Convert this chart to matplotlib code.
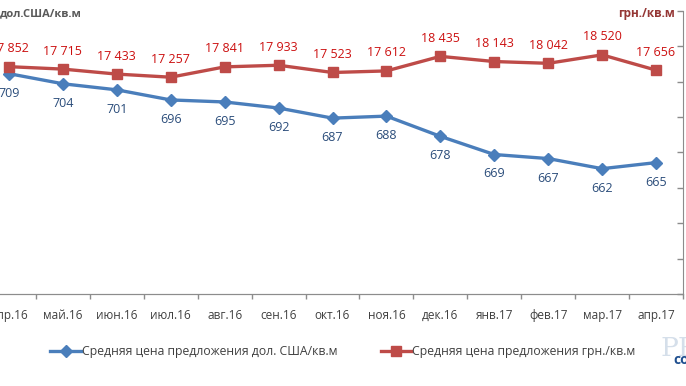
import matplotlib
matplotlib.use("Agg")
import matplotlib.pyplot as plt
from matplotlib.ticker import FixedLocator

plt.rcParams["font.family"] = ["Open Sans", "DejaVu Sans"]

# данные
months = ["апр.16", "май.16", "июн.16", "июл.16", "авг.16", "сен.16", "окт.16",
          "ноя.16", "дек.16", "янв.17", "фев.17", "мар.17", "апр.17"]
usd = [709, 704, 701, 696, 695, 692, 687, 688, 678, 669, 667, 662, 665]
uah = [17852, 17715, 17433, 17257, 17841, 17933, 17523, 17612, 18435, 18143, 18042, 18520, 17656]

BLUE = "#4a7ebb"
RED = "#be4b48"
AXIS = "#8c8c8c"


def fmt_uah(v):
    return f"{v:,}".replace(",", " ")


fig = plt.figure(figsize=(6.86, 3.86), dpi=100)
ax = fig.add_axes([-18 / 686, 92 / 386, 701 / 686, 283 / 386])
ax2 = ax.twinx()

x = list(range(len(months)))
l1, = ax.plot(x, usd, "-D", color=BLUE, lw=2.4, ms=6, mec=BLUE,
              label="Средняя цена предложения дол. США/кв.м")
l2, = ax2.plot(x, uah, "-s", color=RED, lw=2.4, ms=7, mec=RED,
               label="Средняя цена предложения грн./кв.м")

for i, v in enumerate(usd):
    ax.annotate(str(v), (i, v), xytext=(0, -14), textcoords="offset points",
                ha="center", va="center", fontsize=9, color="#2a4c7a")
for i, v in enumerate(uah):
    ax2.annotate(fmt_uah(v), (i, v), xytext=(0, 13), textcoords="offset points",
                 ha="center", va="center", fontsize=9, color="#cc1010")

ax.set_xlim(-0.5, 12.5)
ax.set_ylim(600, 740)
ax2.set_ylim(5000, 21000)

ax.set_xticks(x)
ax.set_xticklabels(months)
ax.xaxis.set_minor_locator(FixedLocator([i + 0.5 for i in range(-1, 13)]))
ax.tick_params(axis="x", which="major", length=0, pad=11, labelsize=8.5, labelcolor="#404040")
ax.tick_params(axis="x", which="minor", length=3.5, width=1, color=AXIS, direction="out")
ax.set_yticks([])

ax2.set_yticks(range(5000, 21001, 2000))
ax2.tick_params(axis="y", direction="in", length=4.5, width=1, color=AXIS, labelright=False)

for a in (ax, ax2):
    a.spines["top"].set_visible(False)
    a.spines["left"].set_visible(False)
    a.spines["bottom"].set_color(AXIS)
    a.spines["right"].set_color(AXIS)
ax.spines["right"].set_visible(False)

fig.text(0.0, 1 - 14 / 386, "дол.США/кв.м", ha="left", va="center",
         fontsize=8, fontweight="bold", color="#595959")
fig.text(675 / 686, 1 - 14 / 386, "грн./кв.м", ha="right", va="center",
         fontsize=8.5, fontweight="bold", color="#953735")

fig.legend(handles=[l1, l2], loc="center", bbox_to_anchor=(0.5, 1 - 352 / 386),
           ncol=2, frameon=False, fontsize=8.8, handlelength=2.5, handletextpad=0.1,
           columnspacing=3.5, labelcolor="#404040")

# логотип
fig.text(660 / 686, 1 - 349 / 386, "PRO", ha="left", va="center", fontsize=19,
         family="DejaVu Serif", color="#d5dfea")
fig.text(673 / 686, 1 - 360 / 386, "co", ha="left", va="center", fontsize=10,
         fontweight="bold", color="#1f4f8f")

fig.savefig("out.png", dpi=100, facecolor="white")
